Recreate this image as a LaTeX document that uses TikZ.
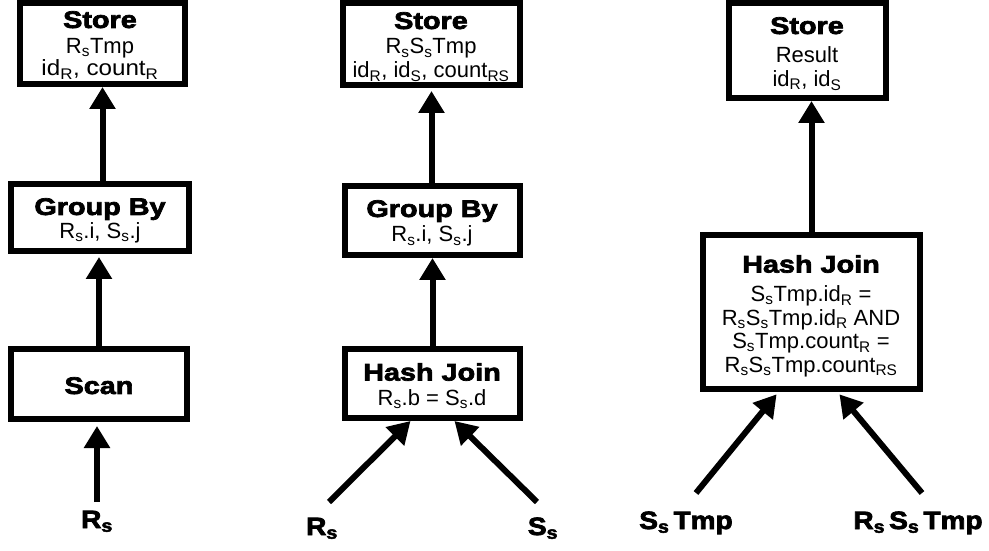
\documentclass[tikz,border=0pt]{standalone}
\usepackage{fontspec}
\setmainfont{Liberation Sans}
\newfontfamily\opfont[FakeBold=3,FakeStretch=1.2]{Liberation Sans Bold}
\newfontfamily\relfont[FakeBold=3,FakeStretch=1.12]{Liberation Sans Bold}
\usetikzlibrary{arrows.meta,calc}
\newcommand\lo[1]{\textsubscript{#1}}
\newcommand\optitle[1]{{\opfont\fontsize{24}{28}\selectfont #1}}

\begin{document}
\begin{tikzpicture}[x=1pt,y=1pt,
  opbox/.style={draw, line width=6pt, inner sep=0pt},
  optext/.style={anchor=north, inner sep=0pt, align=center,
    font=\fontsize{22}{23.5}\selectfont},
  rel/.style={anchor=base, inner sep=0pt, font=\relfont\fontsize{25}{28}\selectfont},
  flow/.style={line width=6pt, -{Triangle[width=25pt,length=22pt]}}]
\useasboundingbox (0,0) rectangle (989,550);

% plan 1: scan -> group by -> store
\node[opbox, minimum width=165, minimum height=81] (store1) at (102.5,506.5) {};
\node[optext] (store1t) at (100,539)
  {\optitle{Store}\\[2pt] R\lo{s}Tmp\\[-1pt] \scalebox{1.1}[1]{id\lo{R}, count\lo{R}}};
\node[opbox, minimum width=178, minimum height=67] (group1) at (100,332.5) {};
\node[optext] (group1t) at (100,352)
  {\optitle{Group By}\\[0pt] R\lo{s}.i, S\lo{s}.j};
\node[opbox, minimum width=176, minimum height=70] (scan1) at (99,166) {};
\node[optext] (scan1t) at (99,173) {\optitle{Scan}};
\node[rel] (r1) at (97,22) {R\lo{s}};
\coordinate (r1tail) at (97,48);

\draw[flow, shorten >=4pt] (r1tail) -- (r1tail |- scan1.south);
\draw[flow, shorten >=3pt] (scan1.north) -- (scan1.north |- group1.south);
\draw[flow] (store1.south |- group1.north) -- (store1.south);

% plan 2: hash join -> group by -> store
\node[opbox, minimum width=177, minimum height=82] (store2) at (431.5,506) {};
\node[optext] (store2t) at (431,538)
  {\optitle{Store}\\[1.5pt] R\lo{s}S\lo{s}Tmp\\[0.5pt] id\lo{R}, id\lo{S}, count\lo{RS}};
\node[opbox, minimum width=175, minimum height=69] (group2) at (432.5,329.5) {};
\node[optext] (group2t) at (432,350)
  {\optitle{Group By}\\[1.5pt] R\lo{s}.i, S\lo{s}.j};
\node[opbox, minimum width=175, minimum height=69] (hash2) at (432.5,166.5) {};
\node[optext] (hash2t) at (432,187)
  {\optitle{Hash Join}\\[1.5pt] R\lo{s}.b = S\lo{s}.d};
\node[rel] (r2) at (322,15) {R\lo{s}};
\node[rel] (s2) at (543,15) {S\lo{s}};
\coordinate (r2tail) at (329,48);
\coordinate (s2tail) at (537,48);
\coordinate (g2up) at ($(group2.north)+(-1,0)$);

\draw[flow] (r2tail) -- ($(hash2.south)+(-22,0)$);
\draw[flow] (s2tail) -- ($(hash2.south)+(22,0)$);
\draw[flow] (hash2.north) -- (hash2.north |- group2.south);
\draw[flow, shorten >=3pt] (g2up) -- (g2up |- store2.south);

% plan 3: final hash join -> store
\node[opbox, minimum width=157, minimum height=95] (store3) at (807.5,499.5) {};
\node[optext] (store3t) at (807,533)
  {\optitle{Store}\\[5.5pt] Result\\ id\lo{R}, id\lo{S}};
\node[opbox, minimum width=217, minimum height=154] (hash3) at (811.5,238) {};
\node[optext] (hash3t) at (811,295)
  {\optitle{Hash Join}\\[5.5pt] S\lo{s}Tmp.id\lo{R} =\\ R\lo{s}S\lo{s}Tmp.id\lo{R} AND\\
   S\lo{s}Tmp.count\lo{R} =\\ R\lo{s}S\lo{s}Tmp.count\lo{RS}};
\node[rel] (st) at (686,21) {S\lo{s}\,Tmp};
\node[rel] (rst) at (918,21) {R\lo{s}\,S\lo{s}\,Tmp};
\coordinate (sttail) at (696,57);
\coordinate (rsttail) at (922,57);

\draw[flow, shorten >=3pt] (sttail) -- ($(hash3.south)+(-33,0)$);
\draw[flow, shorten >=3pt] (rsttail) -- ($(hash3.south)+(26,0)$);
\draw[flow] (hash3.north) -- (hash3.north |- store3.south);
\end{tikzpicture}
\end{document}
